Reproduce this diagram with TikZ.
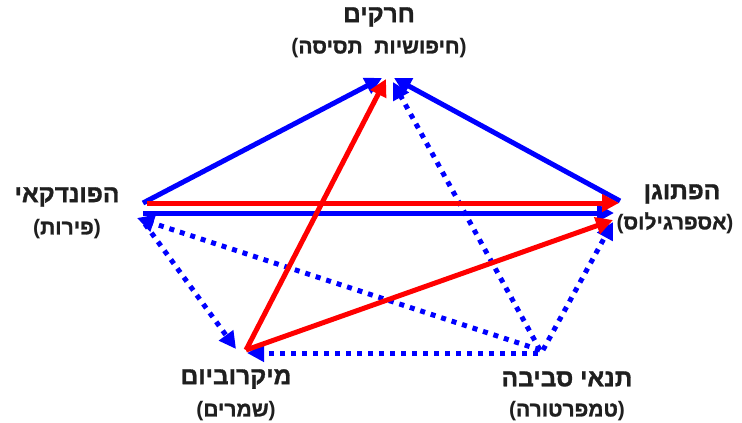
\documentclass[tikz,border=0pt]{standalone}
\usepackage{fontspec}
\setmainfont{Liberation Sans}
\newfontfamily\hebfont[Script=Hebrew, FakeBold=1.2]{Liberation Sans Bold}
\newfontfamily\latfont{Liberation Sans Bold}
\TeXXeTstate=1
\usetikzlibrary{arrows.meta}
\definecolor{myblue}{RGB}{0,0,255}
\definecolor{myred}{RGB}{255,0,0}
\newcommand{\heb}[1]{\beginR #1\endR}
\newcommand{\lpar}{{\latfont(}}
\newcommand{\rpar}{{\latfont)}}
\tikzset{
  tipstyle/.style={-{Triangle[length=17pt,width=17pt]}},
  bluesolid/.style={tipstyle, line width=5pt, draw=myblue},
  redsolid/.style={tipstyle, line width=5pt, draw=myred},
  bluedot/.style={tipstyle, line width=5pt, draw=myblue, dash pattern=on 5pt off 6pt},
  maintext/.style={font=\hebfont\fontsize{24.5}{28}\selectfont, inner sep=0pt, text=black!88},
  subtext/.style={font=\hebfont\fontsize{21}{25}\selectfont, inner sep=0pt, text=black!88},
}
\begin{document}
\begin{tikzpicture}[x=1pt,y=-1pt]
\useasboundingbox (0,0) rectangle (742,423);
\fill[white] (0,0) rectangle (742,423);

% labels
\node[maintext] (insects) at (379,17) {\heb{חרקים}};
\node[subtext] (insectsSub) at (379,48) {\lpar\heb{חיפושיות\ \ תסיסה}\rpar};
\node[maintext] (host) at (67,197) {\heb{הפונדקאי}};
\node[subtext] (hostSub) at (67,229) {\lpar\heb{פירות}\rpar};
\node[maintext] (pathogen) at (682,194) {\heb{הפתוגן}};
\node[subtext] (pathogenSub) at (675,223) {\lpar\heb{אספרגילוס}\rpar};
\node[maintext] (micro) at (236,379) {\heb{מיקרוביום}};
\node[subtext] (microSub) at (236,411) {\lpar\heb{שמרים}\rpar};
\node[maintext] (env) at (567,379) {\heb{תנאי סביבה}};
\node[subtext] (envSub) at (567,411) {\lpar\heb{טמפרטורה}\rpar};

% connector end points
\coordinate (hostA) at (143,203);
\coordinate (hostB) at (147,203);
\coordinate (hostC) at (143,213);
\coordinate (hostD) at (137,218);
\coordinate (hostE) at (145,224);
\coordinate (topA) at (382,78);
\coordinate (topB) at (394,78);
\coordinate (topC) at (386,79);
\coordinate (topD) at (393,82);
\coordinate (pathA) at (620,201);
\coordinate (pathB) at (619,203);
\coordinate (pathC) at (614,213);
\coordinate (pathD) at (613,220);
\coordinate (pathE) at (613,222);
\coordinate (micA) at (246,350);
\coordinate (micB) at (236,349);
\coordinate (micC) at (247,353);
\coordinate (envA) at (540,350);
\coordinate (envB) at (538,353);
\coordinate (envC) at (543,350);

% dotted (environment) arrows
\draw[bluedot] (envA) -- (topD);
\draw[bluedot] (envA) -- (hostD);
\draw[bluedot] (envB) -- (micC);
\draw[bluedot] (envC) -- (pathE);
\draw[bluedot] (hostE) -- (micB);

% solid arrows
\draw[bluesolid] (hostA) -- (topA);
\draw[bluesolid] (pathA) -- (topB);
\draw[bluesolid] (hostC) -- (pathC);
\draw[redsolid] (hostB) -- (pathB);
\draw[redsolid] (micA) -- (topC);
\draw[redsolid] (micA) -- (pathD);
\end{tikzpicture}
\end{document}
